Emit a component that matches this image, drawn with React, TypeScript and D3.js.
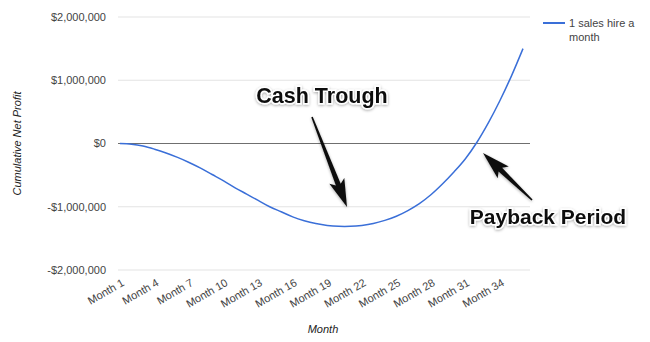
import React from "react";
import * as d3 from "d3";

const months: string[] = Array.from({ length: 36 }, (_, i) => `Month ${i + 1}`);
const profitMillions: number[] = [
  0, -0.01, -0.04, -0.09, -0.15, -0.22, -0.3, -0.39, -0.49, -0.59, -0.7, -0.8,
  -0.9, -1.0, -1.08, -1.16, -1.22, -1.265, -1.295, -1.31, -1.31, -1.295, -1.265, -1.215,
  -1.15, -1.06, -0.95, -0.81, -0.64, -0.45, -0.24, 0.02, 0.33, 0.68, 1.07, 1.5,
];
const yTicks: number[] = [2000000, 1000000, 0, -1000000, -2000000];
const xTickLabels: string[] = months.filter((_, i) => i % 3 === 0);
const seriesName = ["1 sales hire a", "month"];

const W = 650;
const H = 342;

function arrowPath(x1: number, y1: number, x2: number, y2: number) {
  const dx = x2 - x1, dy = y2 - y1;
  const len = Math.hypot(dx, dy);
  const ux = dx / len, uy = dy / len;
  const px = -uy, py = ux;
  const headLen = 24, headW = 8, tailW = 0.8, neckW = 2.6;
  const bx = x2 - ux * headLen, by = y2 - uy * headLen;
  const pts = [
    [x1 + px * tailW, y1 + py * tailW],
    [bx + px * neckW, by + py * neckW],
    [bx - ux * 4 + px * headW, by - uy * 4 + py * headW],
    [x2, y2],
    [bx - ux * 4 - px * headW, by - uy * 4 - py * headW],
    [bx - px * neckW, by - py * neckW],
    [x1 - px * tailW, y1 - py * tailW],
  ];
  return "M" + pts.map((p) => p.join(",")).join("L") + "Z";
}

export default function App() {
  const x = d3.scalePoint<string>().domain(months).range([120, 523]);
  const y = d3.scaleLinear().domain([-2000000, 2000000]).range([270, 17]);
  const line = d3
    .line<number>()
    .x((_, i) => x(months[i]) as number)
    .y((d) => y(d * 1000000))
    .curve(d3.curveCatmullRom);
  const fmt = (v: number) => (v < 0 ? "-$" : "$") + d3.format(",")(Math.abs(v));
  const font = "'Liberation Sans', Arial, sans-serif";

  return (
    <svg width={W} height={H} style={{ position: "absolute", left: 0, top: 0, background: "#fff" }} fontFamily={font}>
      <rect width={W} height={H} fill="#fff" />
      {yTicks.map((t) => (
        <g key={t}>
          <line x1={118} x2={530} y1={y(t)} y2={y(t)} stroke={t === 0 ? "#6f6f6f" : "#e3e3e3"} strokeWidth={1} />
          <text x={106} y={y(t)} dy="0.35em" textAnchor="end" fontSize={11} fill="#444">
            {fmt(t)}
          </text>
        </g>
      ))}
      {xTickLabels.map((m) => (
        <text
          key={m}
          transform={`translate(${(x(m) as number) + 5},${285}) rotate(-30)`}
          textAnchor="end"
          fontSize={11}
          fill="#444"
        >
          {m}
        </text>
      ))}
      <text x={323} y={333} textAnchor="middle" fontSize={11} fontStyle="italic" fill="#222">
        Month
      </text>
      <text transform={`translate(21,${y(0)}) rotate(-90)`} textAnchor="middle" fontSize={11} fontStyle="italic" fill="#222">
        Cumulative Net Profit
      </text>
      <path d={line(profitMillions) || ""} fill="none" stroke="#3a6fd8" strokeWidth={1.5} />
      <line x1={543} x2={565} y1={23} y2={23} stroke="#3a6fd8" strokeWidth={2} />
      <text x={569} y={27} fontSize={11} fill="#444">
        {seriesName[0]}
      </text>
      <text x={569} y={41} fontSize={11} fill="#444">
        {seriesName[1]}
      </text>
      <defs>
        <filter id="glow" x="-20%" y="-40%" width="140%" height="180%">
          <feGaussianBlur in="SourceAlpha" stdDeviation="1.5" result="b" />
          <feOffset in="b" dx="0" dy="1" result="o" />
          <feComponentTransfer in="o" result="s">
            <feFuncA type="linear" slope="0.35" />
          </feComponentTransfer>
          <feMerge>
            <feMergeNode in="s" />
            <feMergeNode in="SourceGraphic" />
          </feMerge>
        </filter>
      </defs>
      <g filter="url(#glow)">
        <path d={arrowPath(312, 117, 347, 207)} fill="#111" />
        <path d={arrowPath(532, 200, 483, 153)} fill="#111" />
        <text x={322} y={103} textAnchor="middle" fontSize={21.5} fontWeight="bold" fill="#111" stroke="#fff" strokeWidth={3} paintOrder="stroke">
          Cash Trough
        </text>
        <text x={548} y={224} textAnchor="middle" fontSize={21} fontWeight="bold" fill="#111" stroke="#fff" strokeWidth={3} paintOrder="stroke">
          Payback Period
        </text>
      </g>
    </svg>
  );
}
